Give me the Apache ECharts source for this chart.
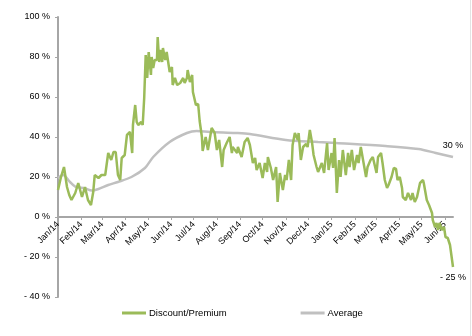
<!DOCTYPE html>
<html>
<head>
<meta charset="utf-8">
<script src="https://cdn.jsdelivr.net/npm/echarts@6/dist/echarts.min.js"></script>
<style>html,body{margin:0;padding:0;background:#fff;}#c{width:472px;height:336px;}</style>
</head>
<body>
<div id="c"></div>
<script>
var monthNames = ['Jan','Feb','Mar','Apr','May','Jun','Jul','Aug','Sep','Oct','Nov','Dec'];
var seriesNames = ['Discount/Premium', 'Average'];

var dpDates = ['2014-01-01','2014-01-05','2014-01-09','2014-01-13','2014-01-16','2014-01-19','2014-01-24','2014-01-28','2014-02-02','2014-02-06','2014-02-10','2014-02-14','2014-02-17','2014-02-19','2014-02-24','2014-02-28','2014-03-05','2014-03-09','2014-03-13','2014-03-16','2014-03-19','2014-03-22','2014-03-25','2014-03-27','2014-03-31','2014-04-03','2014-04-07','2014-04-10','2014-04-11','2014-04-14','2014-04-16','2014-04-18','2014-04-22','2014-04-24','2014-04-26','2014-04-28','2014-04-30','2014-05-02','2014-05-05','2014-05-06','2014-05-08','2014-05-10','2014-05-13','2014-05-14','2014-05-16','2014-05-18','2014-05-20','2014-05-21','2014-05-24','2014-05-26','2014-05-28','2014-05-30','2014-06-02','2014-06-03','2014-06-06','2014-06-09','2014-06-13','2014-06-17','2014-06-19','2014-06-22','2014-06-23','2014-06-26','2014-06-29','2014-06-30','2014-07-04','2014-07-07','2014-07-09','2014-07-12','2014-07-13','2014-07-17','2014-07-20','2014-07-25','2014-07-27','2014-07-29','2014-08-01','2014-08-04','2014-08-08','2014-08-10','2014-08-14','2014-08-18','2014-08-21','2014-08-22','2014-08-28','2014-08-29','2014-09-03','2014-09-07','2014-09-11','2014-09-14','2014-09-18','2014-09-21','2014-09-23','2014-09-27','2014-10-01','2014-10-04','2014-10-07','2014-10-08','2014-10-12','2014-10-15','2014-10-19','2014-10-21','2014-10-24','2014-10-28','2014-10-31','2014-11-02','2014-11-05','2014-11-08','2014-11-10','2014-11-13','2014-11-17','2014-11-18','2014-11-21','2014-11-24','2014-11-28','2014-11-30','2014-12-03','2014-12-06','2014-12-08','2014-12-12','2014-12-14','2014-12-19','2014-12-22','2014-12-26','2014-12-28','2015-01-01','2015-01-03','2015-01-05','2015-01-08','2015-01-11','2015-01-13','2015-01-16','2015-01-20','2015-01-23','2015-01-25','2015-01-28','2015-01-31','2015-02-04','2015-02-06','2015-02-09','2015-02-12','2015-02-16','2015-02-18','2015-02-22','2015-02-25','2015-03-02','2015-03-04','2015-03-08','2015-03-10','2015-03-13','2015-03-16','2015-03-18','2015-03-22','2015-03-25','2015-03-28','2015-03-30','2015-04-02','2015-04-05','2015-04-06','2015-04-10','2015-04-13','2015-04-17','2015-04-19','2015-04-22','2015-04-25','2015-04-29','2015-05-03','2015-05-04','2015-05-08','2015-05-11','2015-05-15','2015-05-16','2015-05-19','2015-05-21','2015-05-23','2015-05-25','2015-05-28','2015-05-31','2015-06-02','2015-06-05','2015-06-08','2015-06-12'];
var dpValues = [13.5,20,25,15,11,8.5,12,17,10,15,8.5,6,12.5,21,19.5,21,21,32,28.5,32.5,32.5,21,18.5,29.5,31,41,42.5,32,46,56,47.5,46,47.5,46,59.5,81,69.5,82.5,71,80,74.5,78.5,78.5,90,77.5,83.5,77.5,84.5,78.5,82.5,77.5,72.5,75,66,69.5,66,67,69.5,67,69.5,73.5,67.5,71,62.5,56,56.5,48,40,33,40,33.5,44.5,45,42,33.5,38.5,25,33.5,37,40,32,35,32,35,30,37.5,39.5,36,27,29.5,23.5,27,19.5,27,22.5,30,24.5,18.5,25,7.5,22,13.5,21,18.5,28.5,18.5,36,42,38.5,42,28.5,35,36.5,35,43.5,37,31,25,22.5,27,22,37,23.5,32,24.5,39.5,12,28.5,20,33.5,21,32,25,33.5,23.5,31,27,35,28.5,20,25,28.5,30,22,30,32,27,18.5,14.5,16,20,24.5,24,18.5,20,14.5,10,8.5,12,8.5,12,7.5,10,17,18.5,17,8.5,6,2,-1.5,-5,-3,-6.5,-3,-6.5,-5,-10,-10.5,-14,-25];

var avgDates = ['2014-01-01','2014-01-08','2014-01-17','2014-01-24','2014-02-06','2014-02-15','2014-02-24','2014-03-09','2014-03-22','2014-04-09','2014-04-27','2014-05-08','2014-05-30','2014-06-22','2014-07-05','2014-07-23','2014-08-26','2014-09-14','2014-11-01','2014-12-14','2015-01-07','2015-03-14','2015-04-27','2015-05-20','2015-06-12'];
var avgValues = [19.5,21,17.5,15.2,14.3,13.2,14,16,17.5,20,24.5,30,37.5,42,43,42.5,42,41.5,38.5,37.5,37,35.5,34,32,30];

var yTicks = { min: -40, max: 100, interval: 20 };
var font = 'Liberation Sans, Arial, sans-serif';

function pct(v) {
  return (v < 0 ? '- ' + Math.abs(Math.round(v)) : Math.round(v)) + ' %';
}
function pairs(dates, values) {
  return dates.map(function (d, i) { return [d, values[i]]; });
}
function lastPoint(dates, values, position) {
  var i = dates.length - 1;
  return {
    silent: true,
    symbol: 'circle', symbolSize: 1,
    itemStyle: { color: 'rgba(0,0,0,0)' },
    label: {
      show: true, position: position, distance: 6,
      color: '#000', fontSize: 9, fontFamily: font,
      formatter: function (p) { return pct(p.value); }
    },
    data: [{ coord: [dates[i], values[i]], value: values[i] }]
  };
}

var chart = echarts.init(document.getElementById('c'), null, { renderer: 'canvas' });
chart.setOption({
  animation: false,
  backgroundColor: '#fff',
  grid: { left: 58, right: 19, top: 17, bottom: 39, containLabel: false },
  legend: {
    left: 122, top: 308, padding: 0,
    itemWidth: 24, itemHeight: 3, itemGap: 74,
    icon: 'rect',
    textStyle: { color: '#000', fontSize: 9.5, fontFamily: font, padding: [0, 0, 0, -2] },
    data: seriesNames
  },
  xAxis: {
    type: 'time',
    position: 'bottom',
    offset: -80,
    min: '2014-01-01',
    max: '2015-06-12',
    minInterval: 28 * 86400000,
    maxInterval: 31 * 86400000,
    axisLine: { onZero: false, lineStyle: { color: '#a6a6a6', width: 2 } },
    axisTick: { show: true, length: 3, lineStyle: { color: '#a6a6a6', width: 1 } },
    axisLabel: {
      rotate: 45, margin: 6, color: '#000', fontSize: 9, fontFamily: font,
      showMinLabel: true, showMaxLabel: false, hideOverlap: false,
      formatter: function (v) {
        var d = new Date(v);
        return monthNames[d.getMonth()] + '/' + String(d.getFullYear()).slice(2);
      }
    },
    splitLine: { show: false }
  },
  yAxis: {
    type: 'value',
    min: yTicks.min, max: yTicks.max, interval: yTicks.interval,
    axisLine: { show: true, lineStyle: { color: '#a6a6a6', width: 2 } },
    axisTick: { show: true, length: 3, lineStyle: { color: '#a6a6a6', width: 1 } },
    axisLabel: { margin: 8, color: '#000', fontSize: 9, fontFamily: font, formatter: pct },
    splitLine: { show: false }
  },
  graphic: [{
    type: 'line', shape: { x1: 470.5, y1: 0, x2: 470.5, y2: 336 },
    style: { stroke: '#e3e3e3', lineWidth: 1 }, silent: true
  }],
  series: [
    {
      name: seriesNames[0], type: 'line', symbol: 'none', z: 3,
      lineStyle: { color: '#9bbb59', width: 2.5 },
      itemStyle: { color: '#9bbb59' },
      markPoint: lastPoint(dpDates, dpValues, 'bottom'),
      data: pairs(dpDates, dpValues)
    },
    {
      name: seriesNames[1], type: 'line', symbol: 'none', smooth: 0.3, z: 2,
      lineStyle: { color: '#c0c0c0', width: 2.5 },
      itemStyle: { color: '#c0c0c0' },
      markPoint: lastPoint(avgDates, avgValues, 'top'),
      data: pairs(avgDates, avgValues)
    }
  ]
});
</script>
</body>
</html>
